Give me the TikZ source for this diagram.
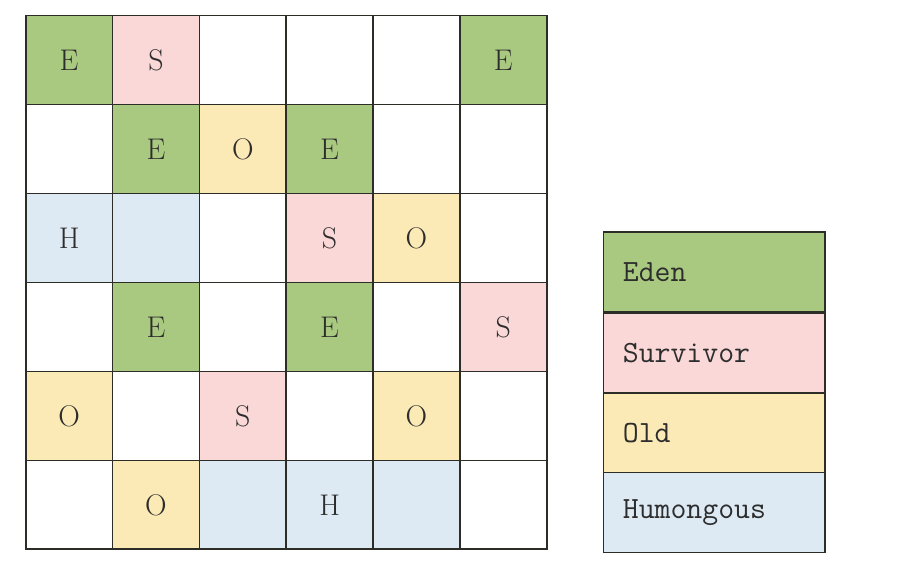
\documentclass[tikz,border=0pt]{standalone}
\usepackage{fontspec}
\begin{document}
\begin{tikzpicture}[x=1bp,y=-1bp]
\definecolor{eden}{RGB}{170,201,128}
\definecolor{surv}{RGB}{250,216,216}
\definecolor{oldc}{RGB}{252,234,182}
\definecolor{humo}{RGB}{221,234,244}
\definecolor{linec}{RGB}{45,45,40}
\definecolor{textc}{RGB}{45,45,45}
\tikzset{
  cell/.style={draw=linec, line width=1.7bp, minimum width=86.83bp, minimum height=88.97bp, inner sep=0pt, text=textc, font=\fontsize{30}{30}\selectfont},
  E/.style={cell, fill=eden},
  S/.style={cell, fill=surv},
  O/.style={cell, fill=oldc},
  H/.style={cell, fill=humo},
  W/.style={cell, fill=white},
  leg/.style={draw=linec, line width=1.7bp, minimum height=80.25bp, inner xsep=19.5bp, inner ysep=0pt, text width=182.7bp, align=left, text=textc, font=\ttfamily\fontsize{31}{31}\selectfont}
}
\useasboundingbox (0,0) rectangle (920,580);
\fill[white] (0,0) rectangle (920,580);
\foreach \c/\s/\t in {1/E/E,2/S/S,3/W/,4/W/,5/W/,6/E/E}{
  \node[\s] (r1c\c) at ({25.7+86.83*\c-43.415},{15.5+88.97*1-44.485}) {\t};
}
\foreach \c/\s/\t in {1/W/,2/E/E,3/O/O,4/E/E,5/W/,6/W/}{
  \node[\s] (r2c\c) at ({25.7+86.83*\c-43.415},{15.5+88.97*2-44.485}) {\t};
}
\foreach \c/\s/\t in {1/H/H,2/H/,3/W/,4/S/S,5/O/O,6/W/}{
  \node[\s] (r3c\c) at ({25.7+86.83*\c-43.415},{15.5+88.97*3-44.485}) {\t};
}
\foreach \c/\s/\t in {1/W/,2/E/E,3/W/,4/E/E,5/W/,6/S/S}{
  \node[\s] (r4c\c) at ({25.7+86.83*\c-43.415},{15.5+88.97*4-44.485}) {\t};
}
\foreach \c/\s/\t in {1/O/O,2/W/,3/S/S,4/W/,5/O/O,6/W/}{
  \node[\s] (r5c\c) at ({25.7+86.83*\c-43.415},{15.5+88.97*5-44.485}) {\t};
}
\foreach \c/\s/\t in {1/W/,2/O/O,3/H/,4/H/H,5/H/,6/W/}{
  \node[\s] (r6c\c) at ({25.7+86.83*\c-43.415},{15.5+88.97*6-44.485}) {\t};
}
% legend
\node[leg, fill=eden] (legE) at (714.2,272.2) {Eden};
\node[leg, fill=surv] (legS) at (714.2,352.8) {Survivor};
\node[leg, fill=oldc] (legO) at (714.2,432.8) {Old};
\node[leg, fill=humo] (legH) at (714.2,512.5) {Humongous};
\end{tikzpicture}
\end{document}
